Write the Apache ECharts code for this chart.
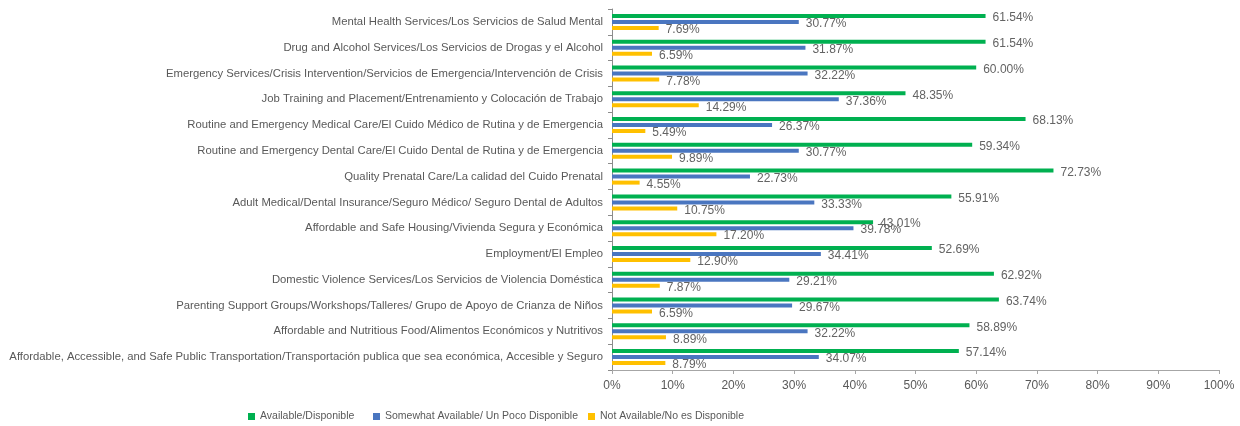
<!DOCTYPE html>
<html>
<head>
<meta charset="utf-8">
<script src="https://cdn.jsdelivr.net/npm/echarts@6/dist/echarts.min.js"></script>
<style>
html,body{margin:0;padding:0;background:#fff;}
#chart{width:1240px;height:426px;}
</style>
</head>
<body>
<div id="chart"></div>
<script>
const categories = [
  "Mental Health Services/Los Servicios de Salud Mental",
  "Drug and Alcohol Services/Los Servicios de Drogas y el Alcohol",
  "Emergency Services/Crisis Intervention/Servicios de Emergencia/Intervención de Crisis",
  "Job Training and Placement/Entrenamiento y Colocación de Trabajo",
  "Routine and Emergency Medical Care/El Cuido Médico de Rutina y de Emergencia",
  "Routine and Emergency Dental Care/El Cuido Dental de Rutina y de Emergencia",
  "Quality Prenatal Care/La calidad del Cuido Prenatal",
  "Adult Medical/Dental Insurance/Seguro Médico/ Seguro Dental de Adultos",
  "Affordable and Safe Housing/Vivienda Segura y Económica",
  "Employment/El Empleo",
  "Domestic Violence Services/Los Servicios de Violencia Doméstica",
  "Parenting Support Groups/Workshops/Talleres/ Grupo de Apoyo de Crianza de Niños",
  "Affordable and Nutritious Food/Alimentos Económicos y Nutritivos",
  "Affordable, Accessible, and Safe Public Transportation/Transportación publica que sea económica, Accesible y Seguro"
];
const seriesNames = ["Available/Disponible", "Somewhat Available/ Un Poco Disponible", "Not Available/No es Disponible"];
const available = [61.54, 61.54, 60.00, 48.35, 68.13, 59.34, 72.73, 55.91, 43.01, 52.69, 62.92, 63.74, 58.89, 57.14];
const somewhat  = [30.77, 31.87, 32.22, 37.36, 26.37, 30.77, 22.73, 33.33, 39.78, 34.41, 29.21, 29.67, 32.22, 34.07];
const notAvail  = [7.69, 6.59, 7.78, 14.29, 5.49, 9.89, 4.55, 10.75, 17.20, 12.90, 7.87, 6.59, 8.89, 8.79];
const xTicks = [0, 10, 20, 30, 40, 50, 60, 70, 80, 90, 100];

const colors = ["#00B050", "#4A76C0", "#FFC000"];
const FONT = "'Liberation Sans', sans-serif";
const TXT = "#595959";
const legendLefts = [248, 373, 588];

const chart = echarts.init(document.getElementById('chart'), null, {renderer: 'canvas'});
function mkSeries(name, data, color) {
  return {
    name: name, type: 'bar', data: data,
    barWidth: 4, barGap: '50%',
    itemStyle: {color: color},
    label: {
      show: true, position: 'right', distance: 7, offset: [0, 2],
      color: '#636363', fontSize: 12, fontFamily: FONT,
      formatter: p => p.value.toFixed(2) + '%'
    },
    emphasis: {disabled: true}
  };
}
chart.setOption({
  animation: false,
  color: colors,
  grid: {left: 612, right: 21, top: 9, bottom: 56, containLabel: false, outerBoundsMode: 'none'},
  legend: seriesNames.map((n, i) => ({
    left: legendLefts[i], top: 411, padding: 0,
    itemWidth: 7, itemHeight: 7,
    icon: 'rect',
    textStyle: {color: TXT, fontSize: 10.5, fontFamily: FONT},
    data: [n]
  })),
  xAxis: {
    type: 'value', min: xTicks[0], max: xTicks[xTicks.length - 1], interval: 10,
    axisLine: {show: true, lineStyle: {color: '#A6A6A6'}},
    axisTick: {show: true, length: 4, lineStyle: {color: '#A6A6A6'}},
    splitLine: {show: false},
    axisLabel: {color: TXT, fontSize: 12, margin: 10, fontFamily: FONT, formatter: v => v + '%'}
  },
  yAxis: {
    type: 'category', data: categories, inverse: true,
    axisLine: {show: true, lineStyle: {color: '#8C8C8C'}},
    axisTick: {show: true, length: 4, lineStyle: {color: '#8C8C8C'}},
    axisLabel: {color: TXT, fontSize: 11.3, margin: 9, fontFamily: FONT, interval: 0}
  },
  series: [
    mkSeries(seriesNames[0], available, colors[0]),
    mkSeries(seriesNames[1], somewhat, colors[1]),
    mkSeries(seriesNames[2], notAvail, colors[2])
  ]
});
</script>
</body>
</html>
